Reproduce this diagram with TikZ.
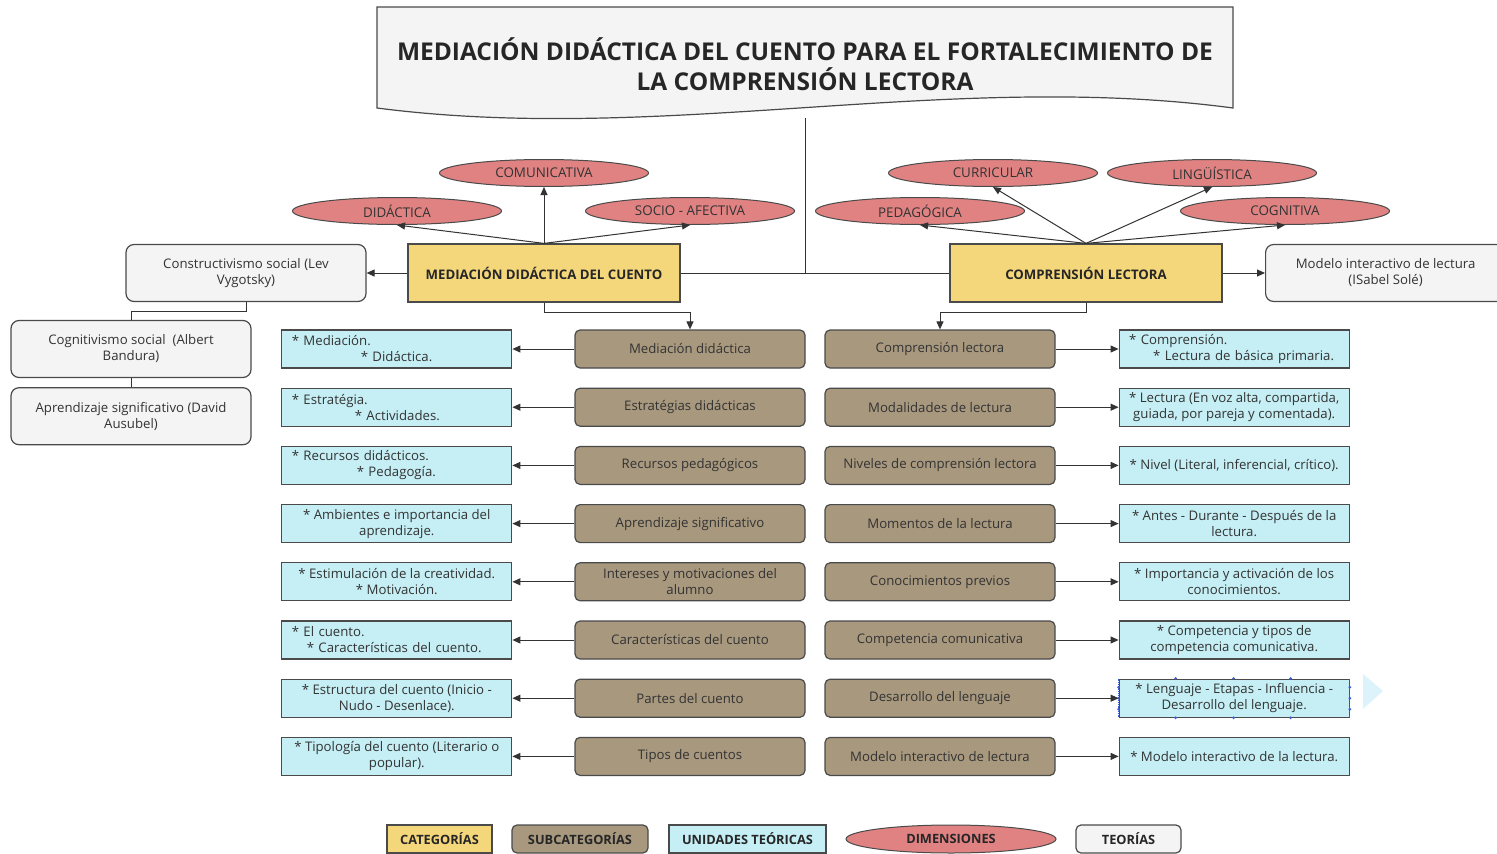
\documentclass[tikz,border=0pt]{standalone}
\usepackage{fontspec}
\setmainfont{Open Sans}
\usepackage{tikz}
\usetikzlibrary{arrows.meta}
\usetikzlibrary{positioning}
\usetikzlibrary{shapes.geometric}
\definecolor{Cat}{HTML}{F5D77B}
\definecolor{Sub}{HTML}{A8987E}
\definecolor{Unit}{HTML}{C5EFF5}
\definecolor{Dim}{HTML}{E08282}
\definecolor{Teo}{HTML}{F4F4F4}
\definecolor{Edge}{HTML}{4A4A4A}
\definecolor{Wire}{HTML}{333333}
\definecolor{Pick}{HTML}{3E5BD6}
\definecolor{Ghost}{HTML}{DDF3FC}
\tikzset{
  txt/.style={font=\fontsize{13.2}{16}\selectfont, text=black!80},
  catbox/.style={draw=Edge, fill=Cat, line width=1.2pt, minimum width=272pt, minimum height=58pt, font=\bfseries\fontsize{13.2}{16}\selectfont, text=black!85},
  subbox/.style={txt, draw=Edge, fill=Sub, line width=1.2pt, rounded corners=5pt, minimum width=230pt, minimum height=38pt, align=center, inner sep=0pt},
  unitbox/.style={txt, draw=Edge, fill=Unit, line width=1.2pt, minimum width=230pt, minimum height=38pt, align=center, inner sep=0pt},
  leftunit/.style={unitbox, text width=210pt, align=left},
  dimbox/.style={ellipse, draw=Edge, fill=Dim, line width=1pt, minimum width=209pt, minimum height=27pt, inner sep=0pt, font=\fontsize{13.4}{15}\selectfont, text=black!80},
  teobox/.style={txt, draw=Edge, fill=Teo, line width=1.2pt, rounded corners=8pt, minimum width=240pt, minimum height=57pt, align=center, inner sep=0pt},
  keybox/.style={minimum height=28pt, inner sep=0pt, font=\bfseries\fontsize{12.8}{15}\selectfont, text=black!85},
  link/.style={draw=Wire, line width=1pt},
  arr/.style={link, -{Triangle[length=8pt,width=7pt]}},
}

\begin{document}
\begin{tikzpicture}[x=1pt, y=-1pt]
        \useasboundingbox (0,0) rectangle (1497,854);

        % title
        \draw[draw=Edge, fill=Teo, line width=1.2pt] (377,7) -- (1233,7) -- (1233,108)
            .. controls (948,70) and (662,145) .. (377,108) -- cycle;
        \node[align=center, font=\bfseries\fontsize{24.5}{30}\selectfont, text=black!85] (title) at (805,64)
            {MEDIACIÓN DIDÁCTICA DEL CUENTO PARA EL FORTALECIMIENTO DE\\LA COMPRENSIÓN LECTORA};
        \coordinate (titlefoot) at (805,118);
        \coordinate (hub) at (805,273);

        % categories
        \node[catbox] (mdc) at (544,273) {MEDIACIÓN DIDÁCTICA DEL CUENTO};
        \node[catbox] (cl) at (1086,273) {COMPRENSIÓN LECTORA};

        % dimensions
        \node[dimbox] (comu) at (544,173) {COMUNICATIVA};
        \node[dimbox] (dida) at (397,211) {DIDÁCTICA};
        \node[dimbox] (socio) at (690,211) {SOCIO - AFECTIVA};
        \node[dimbox] (curri) at (993,173) {CURRICULAR};
        \node[dimbox] (ling) at (1212,173) {LINGÜÍSTICA};
        \node[dimbox] (peda) at (920,211) {PEDAGÓGICA};
        \node[dimbox] (cogn) at (1285,211) {COGNITIVA};

        % theories
        \node[teobox] (vygo) at (246,273) {Constructivismo social (Lev\\Vygotsky)};
        \node[teobox] (bandu) at (131,349) {Cognitivismo social\ \ (Albert\\Bandura)};
        \node[teobox, below=9pt of bandu] (ausu) {Aprendizaje significativo (David\\Ausubel)};
        \node[teobox, anchor=west] (sole) at (1265,273) {Modelo interactivo de lectura\\(ISabel Solé)};

        % subcategories, left
        \node[subbox] (ms1) at (690,349) {Mediación didáctica};
        \node[subbox, below=19pt of ms1] (ms2) {Estratégias didácticas};
        \node[subbox, below=19pt of ms2] (ms3) {Recursos pedagógicos};
        \node[subbox, below=19pt of ms3] (ms4) {Aprendizaje significativo};
        \node[subbox, below=19pt of ms4] (ms5) {Intereses y motivaciones del\\alumno};
        \node[subbox, below=19pt of ms5] (ms6) {Características del cuento};
        \node[subbox, below=19pt of ms6] (ms7) {Partes del cuento};
        \node[subbox, below=19pt of ms7] (ms8) {Tipos de cuentos};

        % theoretical units, left
        \node[leftunit, left=62pt of ms1] (mu1) {* Mediación.\\\hspace*{69pt}* Didáctica.};
        \node[leftunit, left=62pt of ms2] (mu2) {* Estratégia.\\\hspace*{63pt}* Actividades.};
        \node[leftunit, left=62pt of ms3] (mu3) {* Recursos didácticos.\\\hspace*{65pt}* Pedagogía.};
        \node[unitbox, left=62pt of ms4] (mu4) {* Ambientes e importancia del\\aprendizaje.};
        \node[unitbox, left=62pt of ms5] (mu5) {* Estimulación de la creatividad.\\* Motivación.};
        \node[leftunit, left=62pt of ms6] (mu6) {* El cuento.\\\hspace*{15pt}* Características del cuento.};
        \node[unitbox, left=62pt of ms7] (mu7) {* Estructura del cuento (Inicio -\\Nudo - Desenlace).};
        \node[unitbox, left=62pt of ms8] (mu8) {* Tipología del cuento (Literario o\\popular).};

        % subcategories, right
        \node[subbox] (cs1) at (940,349) {Comprensión lectora};
        \node[subbox, below=19pt of cs1] (cs2) {Modalidades de lectura};
        \node[subbox, below=19pt of cs2] (cs3) {Niveles de comprensión lectora};
        \node[subbox, below=19pt of cs3] (cs4) {Momentos de la lectura};
        \node[subbox, below=19pt of cs4] (cs5) {Conocimientos previos};
        \node[subbox, below=19pt of cs5] (cs6) {Competencia comunicativa};
        \node[subbox, below=19pt of cs6] (cs7) {Desarrollo del lenguaje};
        \node[subbox, below=19pt of cs7] (cs8) {Modelo interactivo de lectura};

        % theoretical units, right
        \node[leftunit, right=63pt of cs1] (cu1) {* Comprensión.\\\hspace*{24pt}* Lectura de básica primaria.};
        \node[unitbox, right=63pt of cs2] (cu2) {* Lectura (En voz alta, compartida,\\guiada, por pareja y comentada).};
        \node[unitbox, right=63pt of cs3] (cu3) {* Nivel (Literal, inferencial, crítico).};
        \node[unitbox, right=63pt of cs4] (cu4) {* Antes - Durante - Después de la\\lectura.};
        \node[unitbox, right=63pt of cs5] (cu5) {* Importancia y activación de los\\conocimientos.};
        \node[unitbox, right=63pt of cs6] (cu6) {* Competencia y tipos de\\competencia comunicativa.};
        \node[unitbox, right=63pt of cs7] (cu7) {* Lenguaje - Etapas - Influencia -\\Desarrollo del lenguaje.};
        \node[unitbox, right=63pt of cs8] (cu8) {* Modelo interactivo de la lectura.};

        % selection marks on cu7
        \draw[Pick, densely dotted, line width=0.8pt] (cu7.north west) -- (cu7.south west);
        \draw[Pick, densely dotted, line width=0.8pt] (cu7.north east) -- (cu7.south east);
        \foreach \px in {57,115,172} {
            \fill[Pick] ([xshift=\px pt]cu7.north west) circle (1.5pt);
            \fill[Pick] ([xshift=\px pt]cu7.south west) circle (1.5pt);
        }
        \foreach \py in {-11,0,11} {
            \fill[Pick] ([yshift=\py pt]cu7.west) circle (1.5pt);
            \fill[Pick] ([yshift=\py pt]cu7.east) circle (1.5pt);
        }
        \fill[Ghost] (1363,674) -- (1383,691) -- (1363,709) -- cycle;

        % legend
        \node[keybox, draw=Edge, fill=Cat, line width=1.2pt, minimum width=105pt] (kcat) at (439.5,839) {CATEGORÍAS};
        \node[keybox, draw=Edge, fill=Sub, line width=1.2pt, rounded corners=5pt, minimum width=136pt] (ksub) at (580,839) {SUBCATEGORÍAS};
        \node[keybox, draw=Edge, fill=Unit, line width=1.2pt, minimum width=157pt] (kunit) at (747.5,839) {UNIDADES TEÓRICAS};
        \node[keybox, ellipse, draw=Edge, fill=Dim, line width=1pt, minimum width=210pt] (kdim) at (951,839) {DIMENSIONES};
        \node[keybox, draw=Edge, fill=Teo, line width=1.2pt, rounded corners=5pt, minimum width=105pt] (kteo) at (1128.5,839) {TEORÍAS};

        % edges
        \draw[link] (titlefoot) -- (hub);
        \draw[link] (mdc.east) -- (cl.west);
        \draw[arr] (mdc.north) -- (dida.south);
        \draw[arr] (mdc.north) -- (comu.south);
        \draw[arr] (mdc.north) -- (socio.south);
        \draw[arr] (cl.north) -- (peda.south);
        \draw[arr] (cl.north) -- (curri.south);
        \draw[arr] (cl.north) -- (ling.south);
        \draw[arr] (cl.north) -- (cogn.south);
        \draw[arr] (mdc.west) -- (vygo.east);
        \draw[arr] (cl.east) -- (sole.west);
        \draw[link] (vygo.south) -- ++(0,9) -| (bandu.north);
        \draw[link] (bandu.south) -- (ausu.north);
        \draw[arr] (mdc.south) -- ++(0,10) -| (ms1.north);
        \draw[arr] (cl.south) -- ++(0,10) -| (cs1.north);
        \foreach \i in {1,...,8} {
            \draw[arr] (ms\i.west) -- (mu\i.east);
            \draw[arr] (cs\i.east) -- (cu\i.west);
        }
\end{tikzpicture}
\end{document}
